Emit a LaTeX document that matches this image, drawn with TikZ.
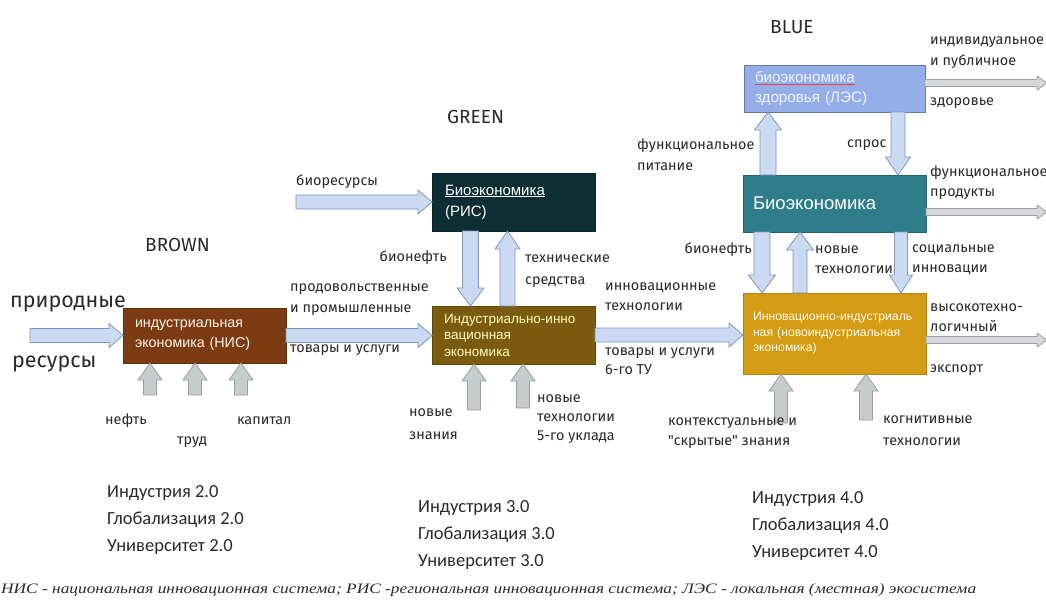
\documentclass[tikz,border=0pt]{standalone}
\usepackage{fontspec}
\usepackage{graphicx}
\setmainfont{Carlito}
\newfontfamily\lblfont{Fira Sans}
\newfontfamily\boxfont{Liberation Sans}
\newfontfamily\notefont{Liberation Serif}
\usetikzlibrary{calc}
\definecolor{cBrown}{HTML}{7C3B12}
\definecolor{cRis}{HTML}{0E2E36}
\definecolor{cOlive}{HTML}{7B5B0E}
\definecolor{cLes}{HTML}{94AEE9}
\definecolor{cBio}{HTML}{2F7C8A}
\definecolor{cGold}{HTML}{D49B14}
\definecolor{aFill}{HTML}{C9DAF2}
\definecolor{aLine}{HTML}{8096B8}
\definecolor{gFill}{HTML}{C6CCCC}
\definecolor{gLine}{HTML}{95A0A0}
\definecolor{rFill}{HTML}{D4D8DC}
\definecolor{rLine}{HTML}{9CA3A8}
\definecolor{lblC}{HTML}{2A2A2A}
\tikzset{
  fatsw/.store in=\fatsw, fathw/.store in=\fathw, fathl/.store in=\fathl,
  fatsw=7pt, fathw=12pt, fathl=14pt,
  fat/.style={to path={let \p1=(\tikztostart), \p2=(\tikztotarget), \p3=($(\p2)!\fathl!(\p1)$) in
    ($(\p1)!\fatsw!90:(\p2)$) -- ($(\p3)!\fatsw!90:(\p2)$) -- ($(\p3)!\fathw!90:(\p2)$) -- (\p2)
    -- ($(\p3)!\fathw!-90:(\p2)$) -- ($(\p3)!\fatsw!-90:(\p2)$) -- ($(\p1)!\fatsw!-90:(\p2)$) -- cycle}},
  barrow/.style={fat, fill=aFill, draw=aLine, line width=0.8pt},
  vert/.style={fatsw=8pt, fathw=13.5pt, fathl=18pt},
  garrow/.style={fat, fill=gFill, draw=gLine, line width=0.8pt, fatsw=6.5pt, fathw=12pt, fathl=17pt},
  rarrow/.style={fat, fill=rFill, draw=rLine, line width=0.8pt, fatsw=3.5pt, fathw=7pt, fathl=10pt},
  box/.style={anchor=north west, inner ysep=0pt, outer sep=0pt, align=left, line width=0.6pt},
  lbl/.style={anchor=west, inner sep=0pt, align=left, text=lblC, font=\lblfont\fontsize{14.4}{20}\selectfont},
  ttl/.style={anchor=west, inner sep=0pt, text=lblC, font=\lblfont\fontsize{19}{22}\selectfont},
  ind/.style={anchor=west, inner sep=0pt, align=left, text=lblC, font=\fontsize{18.5}{27}\selectfont},
}
\begin{document}
\begin{tikzpicture}[x=1pt,y=-1pt]
\fill[white] (0,0) rectangle (1046,613);
\useasboundingbox (0,0) rectangle (1046,613);

% boxes
\node[box, fill=cBrown, draw=cBrown!80!black, inner xsep=12pt, text width=139pt, minimum height=55pt,
  text=white!92!orange, font=\boxfont\fontsize{14.3}{20}\selectfont] (nis) at (123,308)
  {индустриальная\\экономика (НИС)};
\node[box, fill=cRis, draw=cRis!80!black, inner xsep=13pt, text width=137pt, minimum height=58pt,
  text=white, font=\boxfont\fontsize{15}{21}\selectfont] (ris) at (432,173)
  {\underline{Биоэкономика}\\(РИС)};
\node[box, fill=cOlive, draw=cOlive!80!black, inner xsep=12pt, text width=139pt, minimum height=58pt,
  text=white!75!yellow, font=\boxfont\fontsize{13.5}{16.5}\selectfont] (iie) at (432,306)
  {Индустриально-инно\\вационная\\экономика};
\node[box, fill=cLes, draw=cLes!70!black, inner xsep=11pt, text width=159pt, minimum height=47pt,
  text=white!95!blue, font=\boxfont\fontsize{15.2}{20}\selectfont] (les) at (744,65)
  {{\color{red!75}\underline{\color{white!95!blue}биоэкономика}}\\здоровья (ЛЭС)};
\node[box, fill=cBio, draw=cBio!80!black, inner xsep=10pt, text width=163pt, minimum height=57pt,
  text=white, font=\boxfont\fontsize{18.5}{22}\selectfont] (bio) at (743,175)
  {Биоэкономика};
\node[box, fill=cGold, draw=cGold!85!black, inner xsep=10pt, text width=163pt, minimum height=81pt,
  text=white!92!yellow, font=\boxfont\fontsize{12.2}{15.5}\selectfont] (nie) at (743,293)
  {Инновационно-индустриаль\\ная (новоиндустриальная\\экономика)};

% horizontal blue arrows
\coordinate (prIn) at (30,335.5);
\draw[barrow] (prIn) to (prIn -| nis.west);
\draw[barrow] (nis.east) to (nis.east -| iie.west);
\coordinate (bioIn) at (296,202);
\draw[barrow] (bioIn) to (bioIn -| ris.west);
\draw[barrow] (iie.east) to (iie.east -| nie.west);

% vertical blue arrows
\draw[barrow, vert] ([xshift=-43pt]ris.south) to ([xshift=-43pt]iie.north);
\draw[barrow, vert, fatsw=7.5pt, fathw=12.5pt] ([xshift=-6pt]iie.north) to ([xshift=-6pt]ris.south);
\draw[barrow, vert] ([xshift=-66.5pt]bio.north) to ([xshift=-66.5pt]les.south);
\draw[barrow, vert, fatsw=7pt, fathw=12.5pt] ([xshift=63.5pt]les.south) to ([xshift=63.5pt]bio.north);
\draw[barrow, vert] ([xshift=-72.5pt]bio.south) to ([xshift=-72.5pt]nie.north);
\draw[barrow, vert, fatsw=7pt] ([xshift=-34.5pt]nie.north) to ([xshift=-34.5pt]bio.south);
\draw[barrow, vert, fatsw=6.5pt, fathw=11.5pt] ([xshift=66.5pt]bio.south) to ([xshift=66.5pt]nie.north);

% gray input arrows
\coordinate (g1) at (150,395); \draw[garrow] (g1) to (g1 |- nis.south);
\coordinate (g2) at (195,395); \draw[garrow] (g2) to (g2 |- nis.south);
\coordinate (g3) at (241,395); \draw[garrow] (g3) to (g3 |- nis.south);
\coordinate (g4) at (474,410); \draw[garrow] (g4) to (g4 |- iie.south);
\coordinate (g5) at (523,408); \draw[garrow] (g5) to (g5 |- iie.south);
\coordinate (g6) at (781,423); \draw[garrow] (g6) to (g6 |- nie.south);
\coordinate (g7) at (866,420); \draw[garrow] (g7) to (g7 |- nie.south);

% outputs to the right
\coordinate (o1) at (1047,83);  \draw[rarrow] (o1 -| les.east) to (o1);
\coordinate (o2) at (1047,212); \draw[rarrow] (o2 -| bio.east) to (o2);
\coordinate (o3) at (1047,340); \draw[rarrow] (o3 -| nie.east) to (o3);

% titles
\node[ttl] (tBrown) at (145,245) {BROWN};
\node[ttl] (tGreen) at (447,117) {GREEN};
\node[ttl] (tBlue) at (770,27) {BLUE};
\node[lbl, font=\lblfont\fontsize{21.5}{26}\selectfont] (lPr) at (10,304) {природные};
\node[lbl, font=\lblfont\fontsize{21.5}{26}\selectfont] (lRes) at (12,364) {ресурсы};

% labels
\node[lbl] (lNeft) at (105,421) {нефть};
\node[lbl] (lTrud) at (177,442) {труд};
\node[lbl] (lKap) at (237,421) {капитал};
\node[lbl, font=\lblfont\fontsize{14.4}{21}\selectfont] (lProd) at (290,299.5) {продовольственные\\и промышленные};
\node[lbl] (lTov) at (290,350) {товары и услуги};
\node[lbl] (lBiores) at (296,182) {биоресурсы};
\node[lbl, anchor=east] (lBion1) at (447,258) {бионефть};
\node[lbl, font=\lblfont\fontsize{14.4}{22}\selectfont] (lTech) at (525,271) {технические\\средства};
\node[lbl, font=\lblfont\fontsize{14.4}{23}\selectfont] (lZn) at (409,424.5) {новые\\знания};
\node[lbl, font=\lblfont\fontsize{14.4}{19}\selectfont] (lNt5) at (537,419) {новые\\технологии\\5-го уклада};
\node[lbl] (lInnT) at (605,297) {инновационные\\технологии};
\node[lbl, font=\lblfont\fontsize{14.4}{19}\selectfont] (lTov6) at (605,361) {товары и услуги\\6-го ТУ};
\node[lbl, font=\lblfont\fontsize{14.4}{21}\selectfont] (lFp) at (637,155) {функциональное\\питание};
\node[lbl] (lSpros) at (847,145) {спрос};
\node[lbl, font=\lblfont\fontsize{14.4}{21}\selectfont] (lInd) at (930,52.5) {индивидуальное\\и публичное};
\node[lbl] (lZd) at (930,103) {здоровье};
\node[lbl] (lFprod) at (930,183) {функциональное\\продукты};
\node[lbl, anchor=east] (lBion2) at (752,250) {бионефть};
\node[lbl] (lNt) at (815,260) {новые\\технологии};
\node[lbl] (lSoc) at (912,260) {социальные\\инновации};
\node[lbl] (lVys) at (930,318) {высокотехно-\\логичный};
\node[lbl] (lExp) at (930,370) {экспорт};
\node[lbl] (lKont) at (668,433) {контекстуальные и\\\symbol{34}скрытые\symbol{34} знания};
\node[lbl, font=\lblfont\fontsize{14.4}{22}\selectfont] (lKog) at (883,430.5) {когнитивные\\технологии};

% industry blocks
\node[ind] (i2) at (107,520) {Индустрия 2.0\\Глобализация 2.0\\Университет 2.0};
\node[ind] (i3) at (418,534.5) {Индустрия 3.0\\Глобализация 3.0\\Университет 3.0};
\node[ind] (i4) at (752,526) {Индустрия 4.0\\Глобализация 4.0\\Университет 4.0};

% footnote
\node[anchor=west, inner sep=0pt, text=lblC] (note) at (1,590)
  {\resizebox{975pt}{10pt}{\notefont\itshape НИС - национальная инновационная система; РИС -региональная инновационная система; ЛЭС - локальная (местная) экосистема}};
\end{tikzpicture}
\end{document}
